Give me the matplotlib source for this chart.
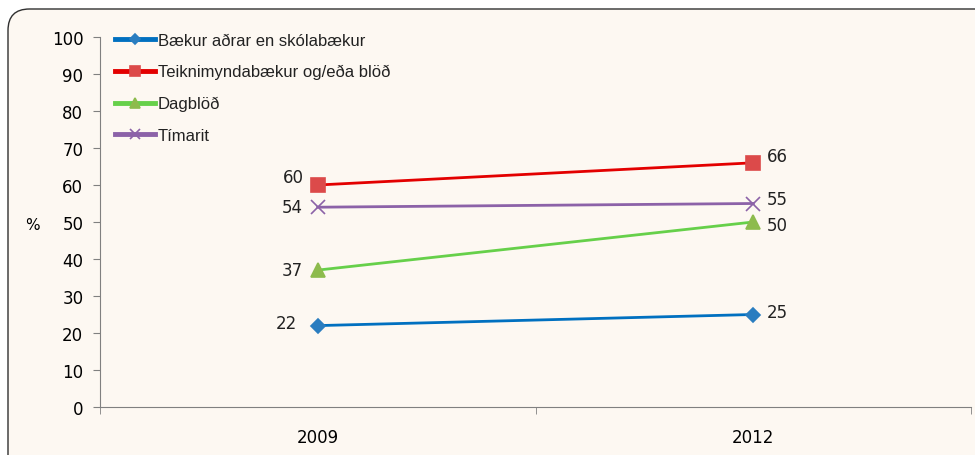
import numpy as np
from matplotlib import pyplot as plt
from matplotlib.patches import FancyBboxPatch

years = ['2009', '2012']
names = ['Bækur aðrar en skólabækur', 'Teiknimyndabækur og/eða blöð', 'Dagblöð', 'Tímarit']
baekur = [22, 25]
teikni = [60, 66]
dagblod = [37, 50]
timarit = [54, 55]
yticks = list(range(0, 101, 10))

bg = '#FDF8F2'
plt.rcParams['font.family'] = ['DejaVu Sans']

fig = plt.figure(figsize=(9.75, 4.56), dpi=100)
fig.patch.set_facecolor('white')
# rounded frame, runs off right and bottom
top = 1 - 10/456
box = FancyBboxPatch((8/975, -0.2), 1.1, top + 0.2, boxstyle='round,pad=0,rounding_size=0.022',
                     transform=fig.transFigure, facecolor=bg, edgecolor='#303030', lw=1.0,
                     mutation_aspect=975/456, zorder=-5)
fig.patches.append(box)

ax = fig.add_axes([100/975, 1-408/456, 871/975, 370/456])
ax.set_facecolor('none')
x = np.arange(len(years))

# line colour, marker, marker colour, marker size, label offsets (pt) for 2009 / 2012
styles = [
    (baekur, '#0070C0', 'D', '#2A7DC0', 7, (-15, 2), (10, 2)),
    (teikni, '#E30000', 's', '#DC4A4A', 10, (-10, 6), (10, 5)),
    (dagblod, '#66D04A', '^', '#8DBB4D', 10, (-11, 0), (10, -2)),
    (timarit, '#8C62A8', 'x', '#8C62A8', 10, (-11, 0), (10, 3)),
]
for (vals, lc, m, mc, ms, o0, o1), name in zip(styles, names):
    ax.plot(x, vals, color=lc, lw=2.0, marker=m, markersize=ms, markerfacecolor=mc,
            markeredgecolor=mc, markeredgewidth=1.2, label=name, clip_on=False)
    ax.annotate(str(vals[0]), (x[0], vals[0]), xytext=o0, textcoords='offset points',
                ha='right', va='center', fontsize=12, color='#222222')
    ax.annotate(str(vals[1]), (x[1], vals[1]), xytext=o1, textcoords='offset points',
                ha='left', va='center', fontsize=12, color='#222222')

ax.set_xlim(-0.5, 1.5)
ax.set_ylim(0, 100)
ax.set_yticks(yticks)
ax.set_xticks(x)
ax.set_xticklabels(years)
ax.set_xticks([-0.5, 0.5, 1.5], minor=True)
ax.tick_params(axis='x', which='major', length=0, pad=15, labelsize=12)
ax.tick_params(axis='x', which='minor', length=5, direction='out', color='#808080')
ax.tick_params(axis='y', length=5, direction='out', color='#808080', labelsize=12, pad=7)
for s in ['top', 'right']:
    ax.spines[s].set_visible(False)
ax.spines['left'].set_color('#808080')
ax.spines['bottom'].set_color('#808080')
fig.text(32/975, 1-225/456, '%', fontsize=11, ha='center', va='center')

leg = ax.legend(loc='upper left', bbox_to_anchor=(0.01, 1.03), frameon=False,
                prop={'family': 'Liberation Sans', 'size': 12},
                handlelength=2.4, handletextpad=0.15, labelspacing=1.0, borderaxespad=0,
                markerscale=0.7)
for h in leg.get_lines():
    h.set_linewidth(3.5)
for t in leg.get_texts():
    t.set_color('#222222')

fig.savefig('out.png', dpi=100, facecolor=fig.get_facecolor())
